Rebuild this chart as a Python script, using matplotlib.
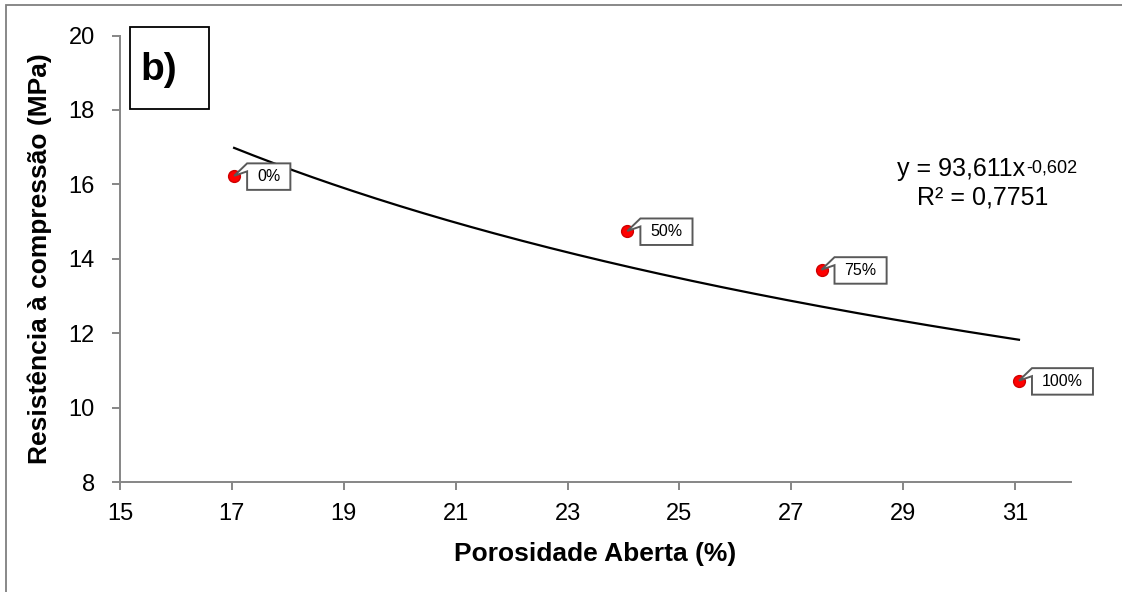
import matplotlib
matplotlib.use('Agg')
import matplotlib.pyplot as plt
from matplotlib.patches import Rectangle, Polygon
from matplotlib.transforms import IdentityTransform
import numpy as np

plt.rcParams['font.family'] = ['Liberation Sans', 'DejaVu Sans']

# porosity vs compressive strength, one point per replacement level
porosidade = [17.04, 24.07, 27.54, 31.07]
resistencia = [16.23, 14.75, 13.71, 10.73]
rotulos = ['0%', '50%', '75%', '100%']

# power-law trend line y = a * x^b
coef_a = 93.611
coef_b = -0.602
eq_texto = 'y = 93,611x'
eq_expoente = '-0,602'
r2_texto = 'R² = 0,7751'

x_ticks = [15, 17, 19, 21, 23, 25, 27, 29, 31]
y_ticks = [8, 10, 12, 14, 16, 18, 20]

W, H = 1122, 592
fig = plt.figure(figsize=(W / 100, H / 100), dpi=100)
ax = fig.add_axes([120 / W, 1 - 482.3 / H, (1071 - 120) / W, (482.3 - 35.5) / H])

grey = '#868686'
box_grey = '#595959'

xs = np.linspace(min(porosidade), max(porosidade), 200)
ax.plot(xs, coef_a * xs ** coef_b, color='black', lw=1.6, zorder=2)

ax.plot(porosidade, resistencia, 'o', ms=8.5, mfc='#ff0000', mec='#d00000',
        mew=1.0, zorder=4)

ax.set_xlim(15, 32)
ax.set_ylim(8, 20)
ax.set_xticks(x_ticks)
ax.set_yticks(y_ticks)
for s in ['top', 'right']:
    ax.spines[s].set_visible(False)
for s in ['left', 'bottom']:
    ax.spines[s].set_color(grey)
    ax.spines[s].set_linewidth(1.4)
ax.tick_params(axis='both', direction='out', length=6, width=1.4, color=grey,
               labelsize=17)
ax.tick_params(axis='y', pad=12)
ax.tick_params(axis='x', pad=9)

ax.set_xlabel('Porosidade Aberta (%)', fontsize=19, fontweight='bold', labelpad=12)
ax.set_ylabel('Resistência à compressão (MPa)', fontsize=19, fontweight='bold',
              labelpad=12)

renderer = fig.canvas.get_renderer()

# callout labels: box to the right of each point with a wedge pointing back to it
for x, y, lab in zip(porosidade, resistencia, rotulos):
    px, py = ax.transData.transform((x, y))
    left = px + 13
    t = fig.text((left + 10) / W, (py - 1) / H, lab, ha='left', va='center',
                 fontsize=11.5, zorder=6)
    tw = t.get_window_extent(renderer).width
    right = left + tw + 20
    top = py + 12.5
    bottom = py - 14
    verts = [(px, py), (left, py + 4.5), (left, bottom), (right, bottom),
             (right, top), (left, top)]
    fig.patches.append(Polygon(verts, closed=True, fc='white', ec=box_grey, lw=1.4,
                               transform=IdentityTransform(), zorder=5))

# trend line equation with raised exponent
eq = fig.text(897 / W, 1 - 176 / H, eq_texto, ha='left', va='baseline', fontsize=18)
ex = eq.get_window_extent(renderer)
fig.text((ex.x1 + 1) / W, (ex.y1 - 2) / H, eq_expoente, ha='left', va='top',
         fontsize=13)
fig.text(983 / W, 1 - 197 / H, r2_texto, ha='center', va='center', fontsize=18)

# panel tag
fig.patches.append(Rectangle((130 / W, 1 - 109 / H), 79 / W, 82.3 / H,
                             transform=fig.transFigure, fc='white', ec='black', lw=1.3))
fig.text(159 / W, 1 - 70 / H, 'b)', ha='center', va='center', fontsize=28,
         fontweight='bold')

# outer frame of the chart area
fig.patches.append(Rectangle((6 / W, -0.05), 1.2, 1 - 5 / H + 0.05,
                             transform=fig.transFigure, fill=False, ec='#7f7f7f', lw=1.3))

fig.savefig('out.png', dpi=100)
